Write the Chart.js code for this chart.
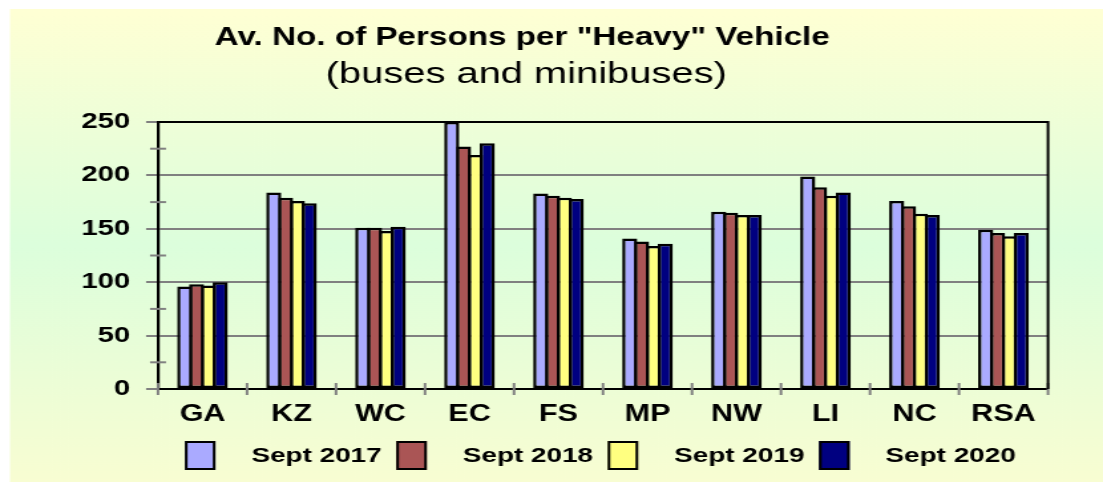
<!DOCTYPE html>
<html>
<head>
<meta charset="utf-8">
<script src="https://cdn.jsdelivr.net/npm/chart.js@4.4.1/dist/chart.umd.min.js"></script>
<style>
  html, body { margin: 0; padding: 0; background: #ffffff; }
</style>
</head>
<body>
<canvas id="c" width="830" height="483" style="display:block;width:1103px;height:483px;"></canvas>
<script>
// ---- data ----
const categories = ['GA', 'KZ', 'WC', 'EC', 'FS', 'MP', 'NW', 'LI', 'NC', 'RSA'];
const seriesNames = ['Sept 2017', 'Sept 2018', 'Sept 2019', 'Sept 2020'];
const sept2017 = [96, 184, 151, 250, 183, 141, 166, 199, 176, 149];
const sept2018 = [98, 179, 151, 227, 181, 138, 165, 189, 171, 146];
const sept2019 = [97, 176, 148, 219, 179, 134, 163, 181, 164, 143];
const sept2020 = [100, 174, 152, 230, 178, 136, 163, 184, 163, 146];
const yTicks = [0, 50, 100, 150, 200, 250];
const titleLine1 = 'Av. No. of Persons per "Heavy" Vehicle';
const titleLine2 = '(buses and minibuses)';

const colors = ['#AAAAFF', '#AA5555', '#FFFF80', '#000080'];
const seriesValues = [sept2017, sept2018, sept2019, sept2020];
const FONT = '"Liberation Sans", Arial, Helvetica, sans-serif';

const bgPlugin = {
  id: 'bg',
  beforeDraw(chart) {
    const ctx = chart.ctx;
    ctx.save();
    const g = ctx.createLinearGradient(0, 9, 0, 482);
    g.addColorStop(0, '#FFFFD4');
    g.addColorStop(0.5, '#DCFEDC');
    g.addColorStop(1, '#F8FDD2');
    ctx.fillStyle = g;
    ctx.fillRect(7.5, 9, chart.width - 7.5, 473);
    ctx.restore();
  }
};

const decoPlugin = {
  id: 'deco',
  afterDatasetsDraw(chart) {
    const ctx = chart.ctx;
    const a = chart.chartArea;
    const y = chart.scales.y, x = chart.scales.x;
    ctx.save();
    ctx.strokeStyle = '#808080';
    ctx.lineWidth = 2;
    for (let i = 0; i < yTicks.length - 1; i++) {
      const py = y.getPixelForValue((yTicks[i] + yTicks[i + 1]) / 2);
      ctx.beginPath();
      ctx.moveTo(a.left - 6, py);
      ctx.lineTo(a.left + 6, py);
      ctx.stroke();
    }
    const w = (x.right - x.left) / categories.length;
    for (let i = 0; i <= categories.length; i++) {
      const px = x.left + i * w;
      ctx.beginPath();
      ctx.moveTo(px, a.bottom - 6);
      ctx.lineTo(px, a.bottom + 6);
      ctx.stroke();
    }
    ctx.strokeStyle = '#000000';
    ctx.lineWidth = 2;
    ctx.beginPath();
    ctx.moveTo(a.left, a.top);
    ctx.lineTo(a.right, a.top);
    ctx.lineTo(a.right, a.bottom);
    ctx.stroke();
    ctx.restore();
  },
  afterDraw(chart) {
    const ctx = chart.ctx;
    const a = chart.chartArea;
    ctx.save();
    ctx.fillStyle = '#000000';
    ctx.textAlign = 'center';
    ctx.textBaseline = 'alphabetic';
    ctx.font = 'bold 25px ' + FONT;
    ctx.fillText(titleLine1, 393, 45);
    ctx.font = '30px ' + FONT;
    ctx.fillText(titleLine2, 396, 83);

    ctx.font = 'bold 21px ' + FONT;
    const boxW = 23, boxH = 29, gapText = 27, gapItem = 11;
    const items = chart.data.datasets.map(ds => ({
      label: ds.label, color: ds.backgroundColor, tw: ctx.measureText(ds.label).width
    }));
    let total = 0;
    items.forEach((it, i) => { total += boxW + gapText + it.tw + (i < items.length - 1 ? gapItem : 0); });
    let lx = (a.left + a.right) / 2 - total / 2 - 2;
    const top = 441;
    ctx.textAlign = 'left';
    ctx.textBaseline = 'middle';
    items.forEach(it => {
      ctx.fillStyle = it.color;
      ctx.fillRect(lx, top, boxW, boxH);
      ctx.strokeStyle = '#000000';
      ctx.lineWidth = 2;
      ctx.strokeRect(lx + 1, top + 1, boxW - 2, boxH - 2);
      ctx.fillStyle = '#000000';
      ctx.fillText(it.label, lx + boxW + gapText, top + boxH / 2 + 1);
      lx += boxW + gapText + it.tw + gapItem;
    });
    ctx.restore();
  }
};

const chart = new Chart(document.getElementById('c'), {
  type: 'bar',
  data: {
    labels: categories,
    datasets: seriesNames.map((name, i) => ({
      label: name,
      data: seriesValues[i],
      backgroundColor: colors[i],
      borderColor: '#000000',
      borderWidth: 2.5,
      borderSkipped: false,
      categoryPercentage: 0.532,
      barPercentage: 1.281
    }))
  },
  options: {
    responsive: false,
    devicePixelRatio: 1,
    animation: false,
    layout: { padding: { left: 0, right: 41.4, top: 122, bottom: 0 } },
    plugins: {
      legend: { display: false },
      title: { display: false },
      tooltip: { enabled: false }
    },
    scales: {
      x: {
        grid: { display: false, drawOnChartArea: false, drawTicks: false },
        border: { display: true, color: '#000000', width: 2 },
        ticks: {
          color: '#000000',
          font: { family: FONT, size: 23, weight: 'bold' },
          padding: 12,
          maxRotation: 0,
          autoSkip: false
        },
        afterFit(scale) { scale.height = 94; }
      },
      y: {
        min: 0,
        max: 250,
        afterBuildTicks(scale) { scale.ticks = yTicks.map(v => ({ value: v })); },
        grid: {
          color: '#808080',
          lineWidth: 2,
          tickColor: '#808080',
          tickWidth: 2,
          tickLength: 9,
          drawTicks: true
        },
        border: { display: true, color: '#000000', width: 2.2 },
        ticks: {
          color: '#000000',
          font: { family: FONT, size: 22, weight: 'bold' },
          padding: 12
        },
        afterFit(scale) { scale.width = 118.9; }
      }
    }
  },
  plugins: [bgPlugin, decoPlugin]
});
const cv = document.getElementById('c');
cv.style.width = '1103px';
cv.style.height = '483px';
</script>
</body>
</html>
